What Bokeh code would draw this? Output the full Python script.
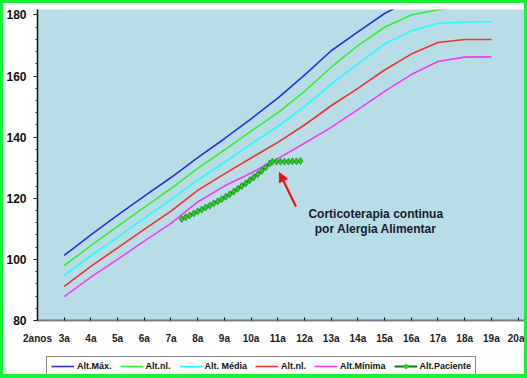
from bokeh.plotting import figure
from bokeh.layouts import column, row
from bokeh.models import (Range1d, FixedTicker, Legend, LegendItem, Arrow,
                          NormalHead, Spacer)
from bokeh.core.properties import value
from bokeh.embed import file_html
from bokeh.resources import INLINE

# ---------------- data ----------------
ages = [3, 4, 5, 6, 7, 8, 9, 10, 11, 12, 13, 14, 15, 16, 17, 18, 19]
alt_max = [101.3, 108.0, 114.5, 120.7, 126.8, 133.3, 139.5, 146.0, 152.8, 160.3, 168.3, 174.5, 180.5, 185.0, 188.0, 189.0, 189.5]
alt_nl_sup = [98.0, 104.5, 110.8, 117.0, 123.2, 129.8, 135.8, 142.0, 148.0, 155.0, 162.9, 170.0, 176.0, 180.0, 181.7, 183.0, 183.0]
alt_media = [94.8, 101.2, 107.3, 113.5, 119.6, 126.0, 131.8, 137.8, 143.5, 150.0, 157.4, 164.0, 170.5, 174.8, 177.2, 177.7, 177.8]
alt_nl_inf = [91.2, 97.7, 103.8, 109.8, 115.8, 122.6, 128.0, 133.2, 138.3, 144.0, 150.3, 156.0, 162.0, 167.2, 171.0, 172.0, 172.0]
alt_min = [87.8, 94.2, 100.0, 106.0, 111.8, 118.8, 124.0, 128.3, 133.0, 138.0, 143.2, 149.0, 155.0, 160.5, 164.8, 166.2, 166.3]

pac_ages = [7.4, 7.55, 7.7, 7.85, 8.0, 8.15, 8.3, 8.45, 8.6, 8.75, 8.9, 9.05, 9.2, 9.35,
            9.5, 9.65, 9.8, 9.95, 10.1, 10.25, 10.4, 10.55, 10.7, 10.8, 10.95, 11.1,
            11.25, 11.4, 11.55, 11.7, 11.85]
pac_alt = [113.2, 113.8, 114.4, 115.0, 115.7, 116.3, 117.0, 117.6, 118.3, 119.0, 119.7, 120.5, 121.3, 122.2,
           123.1, 124.0, 124.9, 125.9, 126.9, 127.9, 129.0, 130.2, 131.4, 132.0, 132.0, 132.0,
           132.0, 132.0, 132.1, 132.1, 132.2]

x_tick_values = list(range(2, 21))
x_tick_labels = ["2anos", "3a", "4a", "5a", "6a", "7a", "8a", "9a", "10a", "11a", "12a",
                 "13a", "14a", "15a", "16a", "17a", "18a", "19a", "20a"]
y_ticks = [80, 100, 120, 140, 160, 180]

series_names = ["Alt.Máx.", "Alt.nl.", "Alt. Média", "Alt.nl.", "Alt.Mínima", "Alt.Paciente"]
note_lines = ["Corticoterapia continua", "por Alergia Alimentar"]
note_x = [14.67, 14.67]
note_y = [114.8, 109.8]
arrow_from = (11.68, 117.3)
arrow_to = (11.06, 128.4)

font = "Liberation Sans"
colors = ["#2233DD", "#33EE33", "#22FFFF", "#EE3333", "#F03CF0"]
pac_line_color = "#117711"
pac_fill = "#2ECC2E"
pac_edge = "#159015"
frame_green = "#19F03C"

# ---------------- main figure ----------------
p = figure(width=521, height=343, x_range=Range1d(2, 20.24), y_range=Range1d(80, 181.8),
           output_backend="svg", toolbar_location=None,
           min_border_left=33, min_border_right=0, min_border_top=6, min_border_bottom=25,
           background_fill_color="#B9DDE6", border_fill_color="white",
           outline_line_color=None)

p.xgrid.visible = False
p.ygrid.visible = False

xa = p.xaxis[0]
xa.ticker = FixedTicker(ticks=x_tick_values)
xa.major_label_overrides = {v: l for v, l in zip(x_tick_values, x_tick_labels)}
xa.major_label_text_font = font
xa.major_label_text_font_style = "bold"
xa.major_label_text_font_size = "10px"
xa.major_label_text_color = "#222222"
xa.major_label_standoff = 12
xa.major_tick_in = 3
xa.major_tick_out = 0
xa.minor_tick_line_color = None
xa.axis_line_color = "#111111"
xa.axis_line_width = 2
xa.axis_line_dash = "1 1"
xa.major_tick_line_color = "#111111"

ya = p.yaxis[0]
ya.ticker = FixedTicker(ticks=y_ticks, minor_ticks=list(range(80, 184, 4)))
ya.major_label_text_font = font
ya.major_label_text_font_style = "bold"
ya.major_label_text_font_size = "12px"
ya.major_label_text_color = "#111111"
ya.major_label_standoff = 7
ya.major_tick_in = 0
ya.major_tick_out = 4
ya.minor_tick_in = 0
ya.minor_tick_out = 2
ya.axis_line_color = "#111111"
ya.axis_line_width = 1.5
ya.major_tick_line_color = "#111111"
ya.minor_tick_line_color = "#333333"

series = [alt_max, alt_nl_sup, alt_media, alt_nl_inf, alt_min]
for vals, c in zip(series, colors):
    p.line(ages, vals, line_color=c, line_width=1.6)

p.line(pac_ages, pac_alt, line_color=pac_line_color, line_width=2)
p.scatter(pac_ages, pac_alt, marker="diamond", size=7, fill_color=pac_fill,
          line_color=pac_edge, line_width=0.8)

p.add_layout(Arrow(end=NormalHead(size=9, fill_color="#EE1111", line_color="#EE1111"),
                   x_start=arrow_from[0], y_start=arrow_from[1],
                   x_end=arrow_to[0], y_end=arrow_to[1],
                   line_color="#EE1111", line_width=2.2))
p.text(x=note_x, y=note_y, text=note_lines, text_align="center", text_baseline="middle",
       text_font=value(font), text_font_style="bold", text_font_size="12px",
       text_color="#1A1A2A")

# ---------------- legend strip ----------------
q = figure(width=521, height=28, x_range=Range1d(0, 1), y_range=Range1d(0, 1),
           output_backend="svg", toolbar_location=None,
           x_axis_location=None, y_axis_location=None,
           min_border=0, outline_line_color=None,
           background_fill_color="white", border_fill_color="white")
q.xgrid.visible = False
q.ygrid.visible = False

# legend-only renderers, placed outside the visible range
hx, hy = [-5, -4], [-5, -4]
leg_renderers = []
for c in colors:
    leg_renderers.append([q.line(hx, hy, line_color=c, line_width=1.6)])
leg_renderers.append([q.line(hx, hy, line_color=pac_line_color, line_width=2),
                      q.scatter(hx, hy, marker="circle", size=5, fill_color=pac_fill,
                                line_color=pac_fill)])

items = [LegendItem(label=n, renderers=r) for n, r in zip(series_names, leg_renderers)]
legend = Legend(items=items, orientation="horizontal", location=(9, -2),
                label_text_font=font, label_text_font_style="bold",
                label_text_font_size="9px", label_text_color="#111111",
                label_height=10, glyph_height=10, glyph_width=23,
                label_standoff=3, spacing=8, padding=4, margin=0,
                border_line_color="#111111", border_line_width=1,
                background_fill_color="white", background_fill_alpha=1)
q.add_layout(legend)

# ---------------- green frame ----------------
g = {"background-color": frame_green}
layout = column(
    Spacer(width=527, height=3, styles=g),
    row(Spacer(width=3, height=371, styles=g),
        column(p, q, spacing=0),
        Spacer(width=3, height=371, styles=g), spacing=0),
    Spacer(width=527, height=4, styles=g),
    spacing=0)

open("out.html", "w").write(file_html(layout, INLINE))
